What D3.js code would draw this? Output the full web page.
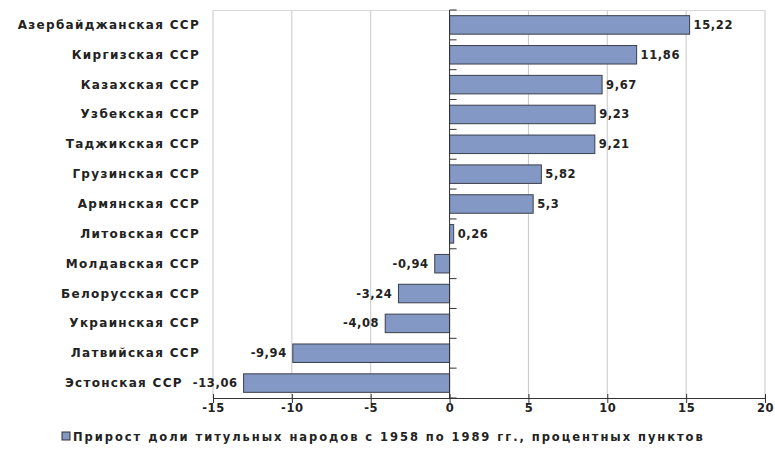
<!DOCTYPE html>
<html><head><meta charset="utf-8">
<script src="https://cdn.jsdelivr.net/npm/d3@7"></script>
<style>body{margin:0;background:#fff}svg{display:block}text{font-family:"DejaVu Sans",sans-serif;font-weight:bold;letter-spacing:0.6px}</style>
</head><body><svg id="c" width="775" height="452"></svg>
<script>
const categories = ["Азербайджанская ССР","Киргизская ССР","Казахская ССР","Узбекская ССР","Таджикская ССР","Грузинская ССР","Армянская ССР","Литовская ССР","Молдавская ССР","Белорусская ССР","Украинская ССР","Латвийская ССР","Эстонская ССР"];
const values = [15.22,11.86,9.67,9.23,9.21,5.82,5.3,0.26,-0.94,-3.24,-4.08,-9.94,-13.06];
const xTicks = [-15,-10,-5,0,5,10,15,20];
const legendLabel = "Прирост доли титульных народов с 1958 по 1989 гг., процентных пунктов";

const svg = d3.select("#c");
const L=213,R=765,T=10,B=398;
const x = d3.scaleLinear().domain([-15,20]).range([L,R]);
const y = d3.scaleBand().domain(categories).range([T,B]).paddingInner(0.38).paddingOuter(0.19);
const yb = d3.scaleBand().domain(categories).range([T,B]);

svg.append("g").selectAll("line").data(xTicks).join("line")
  .attr("x1",d=>x(d)).attr("x2",d=>x(d)).attr("y1",T).attr("y2",B)
  .attr("stroke","#c8c8c8").attr("stroke-width",1);
svg.append("line").attr("x1",L).attr("x2",R).attr("y1",T+0.5).attr("y2",T+0.5).attr("stroke","#d8d8d8");

const fmt = v => String(v).replace(".",",");
svg.append("g").selectAll("rect").data(values).join("rect")
  .attr("x",(d)=>x(Math.min(0,d))).attr("width",d=>Math.abs(x(d)-x(0)))
  .attr("y",(d,i)=>y(categories[i])).attr("height",y.bandwidth())
  .attr("fill","#8498c6").attr("stroke","#3a3f4a").attr("stroke-width",1);

const vl = svg.append("g").selectAll("text").data(values).join("text")
  .attr("x",d=>d>=0? x(d)+4 : x(d)-6)
  .attr("y",(d,i)=>y(categories[i])+y.bandwidth()/2+4)
  .attr("text-anchor",d=>d>=0?"start":"end")
  .attr("font-size",11.5).attr("fill","#222")
  .text(fmt);

const zg = svg.append("g").attr("transform",`translate(${x(0)},0)`);
zg.append("line").attr("y1",T).attr("y2",B).attr("stroke","#333");
zg.selectAll("line.t").data(categories.concat([null])).join("line").attr("class","t")
  .attr("x1",0).attr("x2",7)
  .attr("y1",(d,i)=>T+i*yb.step()).attr("y2",(d,i)=>T+i*yb.step()).attr("stroke","#333");

// category labels; shift left if the value label would overlap
const lefts = vl.nodes().map(n=>n.getBBox().x);
svg.append("g").selectAll("text").data(categories).join("text")
  .attr("x",(d,i)=>Math.min(200, lefts[i]-10)).attr("y",d=>yb(d)+yb.bandwidth()/2+4)
  .attr("text-anchor","end").attr("font-size",12).attr("fill","#222")
  .style("letter-spacing","1.3px")
  .text(d=>d);

const xa = svg.append("g").attr("transform",`translate(0,${B})`)
  .call(d3.axisBottom(x).tickValues(xTicks).tickSize(5).tickFormat(d=>String(d)));
xa.select(".domain").attr("stroke","#333");
xa.selectAll(".tick line").attr("y1",-4).attr("y2",5).attr("stroke","#333");
xa.selectAll("text").attr("font-size",11.5).attr("fill","#222").attr("dy","0.55em").attr("font-family","DejaVu Sans");

svg.append("rect").attr("x",62).attr("y",432).attr("width",8).attr("height",8).attr("fill","#8498c6").attr("stroke","#333");
svg.append("text").attr("x",73).attr("y",441).attr("font-size",11.5).attr("fill","#222").style("letter-spacing","1.95px").text(legendLabel);
</script></body></html>
